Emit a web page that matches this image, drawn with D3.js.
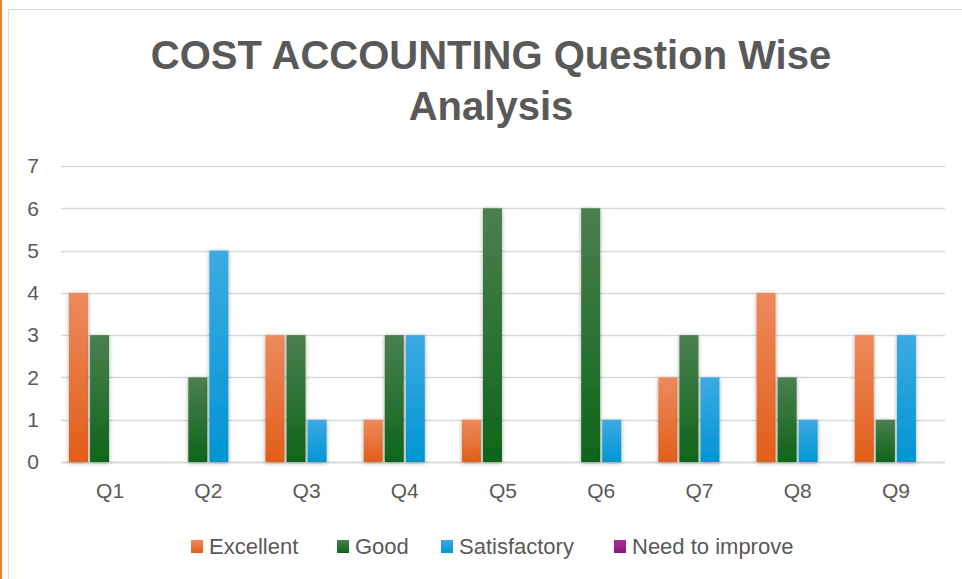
<!DOCTYPE html>
<html>
<head>
<meta charset="utf-8">
<script src="https://cdn.jsdelivr.net/npm/d3@7"></script>
<style>
  html, body { margin: 0; padding: 0; background: #fff; }
  body { width: 962px; height: 579px; overflow: hidden; }
  svg { display: block; font-family: "Liberation Sans", Arial, sans-serif; }
</style>
</head>
<body>
<div id="chart"></div>
<script>
// Chart data
const questions = ['Q1', 'Q2', 'Q3', 'Q4', 'Q5', 'Q6', 'Q7', 'Q8', 'Q9'];
const seriesNames = ['Excellent', 'Good', 'Satisfactory', 'Need to improve'];
const excellent = [4, 0, 3, 1, 1, 0, 2, 4, 3];
const good = [3, 2, 3, 3, 6, 6, 3, 2, 1];
const satisfactory = [0, 5, 1, 3, 0, 1, 2, 1, 3];
const needToImprove = [0, 0, 0, 0, 0, 0, 0, 0, 0];
const yTicks = [0, 1, 2, 3, 4, 5, 6, 7];

const seriesValues = [excellent, good, satisfactory, needToImprove];
const colors = [
    { top: '#ED8A5C', bottom: '#E25E1A' },
    { top: '#4B7F50', bottom: '#0E6519' },
    { top: '#3DAAE2', bottom: '#0096D3' },
    { top: '#A8309A', bottom: '#8E1583' }
];

const W = 962, H = 579;
const margin = { top: 166, right: 17, bottom: 117, left: 61 };
const width = W - margin.left - margin.right;
const height = H - margin.top - margin.bottom;

const svgRoot = d3.select('#chart')
    .append('svg')
    .attr('width', W)
    .attr('height', H);

const defs = svgRoot.append('defs');
colors.forEach((c, i) => {
    const g = defs.append('linearGradient')
        .attr('id', 'grad' + i)
        .attr('x1', 0).attr('y1', 0).attr('x2', 0).attr('y2', 1);
    g.append('stop').attr('offset', '0%').attr('stop-color', c.top);
    g.append('stop').attr('offset', '100%').attr('stop-color', c.bottom);
});
const shadow = defs.append('filter')
    .attr('id', 'shadow')
    .attr('x', '-50%').attr('y', '-10%').attr('width', '200%').attr('height', '130%');
shadow.append('feDropShadow')
    .attr('dx', 0).attr('dy', 1)
    .attr('stdDeviation', 2)
    .attr('flood-color', '#000')
    .attr('flood-opacity', 0.35);

// page edge and chart frame
svgRoot.append('rect')
    .attr('x', 0).attr('y', 0).attr('width', 2).attr('height', H)
    .attr('fill', '#ED7D31');
svgRoot.append('rect')
    .attr('x', 8.5).attr('y', 9.5).attr('width', W).attr('height', H)
    .attr('fill', 'none')
    .attr('stroke', '#D9D9D9');

// Title
const title = svgRoot.append('text')
    .attr('text-anchor', 'middle')
    .attr('fill', '#595959')
    .style('font-size', '40px')
    .style('font-weight', 'bold');
title.append('tspan').attr('x', 491).attr('y', 69).text('COST ACCOUNTING Question Wise');
title.append('tspan').attr('x', 491).attr('y', 120).text('Analysis');

const svg = svgRoot.append('g')
    .attr('transform', `translate(${margin.left},${margin.top})`);

// Scales
const x0 = d3.scaleBand()
    .domain(questions)
    .range([0, width])
    .paddingInner(0)
    .paddingOuter(0);

const x1 = d3.scaleBand()
    .domain(seriesNames)
    .range([8, x0.bandwidth() - 8])
    .paddingInner(0.1);

const y = d3.scaleLinear()
    .domain([0, 7])
    .range([height, 0]);

// Grid lines
svg.append('g')
    .selectAll('line')
    .data(yTicks)
    .enter()
    .append('line')
    .attr('x1', 0)
    .attr('x2', width)
    .attr('y1', d => Math.round(y(d)) + 0.5)
    .attr('y2', d => Math.round(y(d)) + 0.5)
    .attr('stroke', '#D9D9D9')
    .attr('stroke-width', d => d === 0 ? 2 : 1.5);

// Y axis labels
const yAxis = svg.append('g')
    .call(d3.axisLeft(y).tickValues(yTicks).tickFormat(d3.format('d')).tickSize(0).tickPadding(22));
yAxis.select('.domain').remove();
yAxis.selectAll('text')
    .style('font-size', '21px')
    .attr('fill', '#595959')
    .attr('font-family', '"Liberation Sans", Arial, sans-serif');

// X axis labels
const xAxis = svg.append('g')
    .attr('transform', `translate(0,${height})`)
    .call(d3.axisBottom(x0).tickSize(0).tickPadding(21));
xAxis.select('.domain').remove();
xAxis.selectAll('text')
    .style('font-size', '21px')
    .attr('fill', '#595959')
    .attr('font-family', '"Liberation Sans", Arial, sans-serif');

// Bars
const rows = questions.map((q, i) => ({
    q,
    values: seriesNames.map((s, k) => ({ s, k, v: seriesValues[k][i] }))
}));

svg.append('g')
    .selectAll('g')
    .data(rows)
    .enter()
    .append('g')
    .attr('transform', d => `translate(${x0(d.q)},0)`)
    .selectAll('rect')
    .data(d => d.values.filter(e => e.v > 0))
    .enter()
    .append('rect')
    .attr('x', d => x1(d.s))
    .attr('width', x1.bandwidth())
    .attr('y', d => y(d.v))
    .attr('height', d => height - y(d.v))
    .attr('fill', d => `url(#grad${d.k})`)
    .attr('filter', 'url(#shadow)');

// Legend
const legendX = [191, 337, 441, 614];
const legend = svgRoot.append('g')
    .attr('transform', 'translate(0,546)');
const li = legend.selectAll('g')
    .data(seriesNames)
    .enter()
    .append('g')
    .attr('transform', (d, i) => `translate(${legendX[i]},0)`);
li.append('rect')
    .attr('x', 0).attr('y', -6)
    .attr('width', 12).attr('height', 13)
    .attr('fill', (d, i) => `url(#grad${i})`);
li.append('text')
    .attr('x', 18)
    .attr('y', 8)
    .attr('fill', '#595959')
    .style('font-size', '22px')
    .text(d => d);
</script>
</body>
</html>
